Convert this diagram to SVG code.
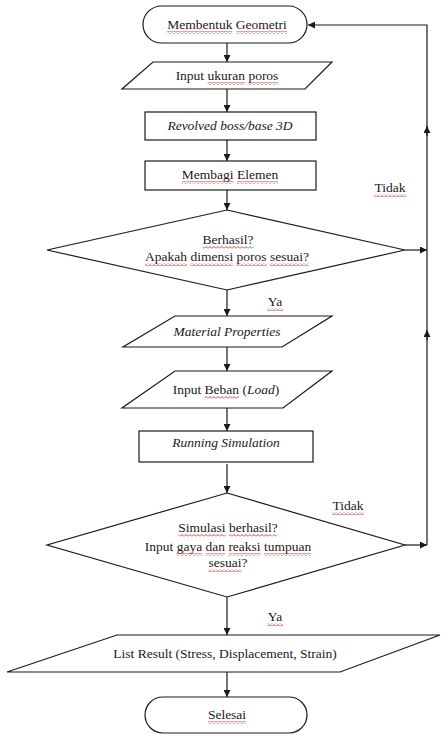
<svg xmlns="http://www.w3.org/2000/svg" width="441" height="734" viewBox="0 0 441 734">
<style>
.s{fill:#fff;stroke:#1a1a1a;stroke-width:1.2}
.c{fill:none;stroke:#1a1a1a;stroke-width:1.2}
text{font-family:"Liberation Serif","Times New Roman",serif;font-size:13.5px;fill:#1a1a1a;text-anchor:middle}
.i{font-style:italic}
.r{fill:url(#wr)}
.g{fill:url(#wg)}
</style>
<defs>
<marker id="a" viewBox="0 0 10 10" refX="10" refY="5" markerWidth="7" markerHeight="7" markerUnits="userSpaceOnUse" orient="auto">
<path d="M0,0 L10,5 L0,10 z" fill="#1a1a1a"/>
</marker>
<pattern id="wr" width="4" height="3" patternUnits="userSpaceOnUse">
<path d="M0,2.5 L2,0.5 L4,2.5" fill="none" stroke="#d42a2a" stroke-width="0.9"/>
</pattern>
<pattern id="wg" width="4" height="3" patternUnits="userSpaceOnUse">
<path d="M0,2.5 L2,0.5 L4,2.5" fill="none" stroke="#3a9a3a" stroke-width="0.9"/>
</pattern>
</defs>
<g id="connectors">
<path class="c" d="M227,43 V62" marker-end="url(#a)"/>
<path class="c" d="M227,89 V112" marker-end="url(#a)"/>
<path class="c" d="M227,140 V161" marker-end="url(#a)"/>
<path class="c" d="M227,190 V210" marker-end="url(#a)"/>
<path class="c" d="M227,290 V316" marker-end="url(#a)"/>
<path class="c" d="M227,347 V371" marker-end="url(#a)"/>
<path class="c" d="M227,408 V431" marker-end="url(#a)"/>
<path class="c" d="M227,464 V493" marker-end="url(#a)"/>
<path class="c" d="M227,597 V635" marker-end="url(#a)"/>
<path class="c" d="M227,672 V697" marker-end="url(#a)"/>
<path class="c" d="M405,250 H427" marker-end="url(#a)"/>
<path class="c" d="M405,545 H427" marker-end="url(#a)"/>
<path class="c" d="M427,545 V25 H308" marker-end="url(#a)"/>
<path class="c" d="M427,340 V330" marker-end="url(#a)"/>
<path class="c" d="M427,136 V126" marker-end="url(#a)"/>
<text x="390" y="192"><tspan>Tidak</tspan></text>
<rect class="r" x="374" y="194" width="32" height="3"/>
<text x="275" y="306"><tspan>Ya</tspan></text>
<rect class="r" x="267" y="308" width="16" height="3"/>
<text x="348" y="510"><tspan>Tidak</tspan></text>
<rect class="r" x="332" y="512" width="32" height="3"/>
<text x="275" y="621"><tspan>Ya</tspan></text>
<rect class="r" x="267" y="623" width="16" height="3"/>
</g>
<g id="n1">
<rect class="s" x="143" y="6" width="164" height="37" rx="18.5"/>
<text x="227" y="29"><tspan>Membentuk</tspan> <tspan>Geometri</tspan></text>
<rect class="r" x="167" y="31" width="65" height="3"/>
<rect class="r" x="236" y="31" width="51" height="3"/>
</g>
<g id="n2">
<polygon class="s" points="153,62 332,62 305,89 122,89"/>
<text x="227" y="80">Input <tspan>ukuran</tspan> <tspan>poros</tspan></text>
<rect class="r" x="207.5" y="82" width="37.5" height="3"/>
<rect class="r" x="248.5" y="82" width="30" height="3"/>
</g>
<g id="n3">
<rect class="s" x="145" y="112" width="171" height="28"/>
<text class="i" x="230" y="130">Revolved boss/base 3D</text>
</g>
<g id="n4">
<rect class="s" x="145" y="161" width="171" height="29"/>
<text x="230" y="179"><tspan>Membagi</tspan> <tspan>Elemen</tspan></text>
<rect class="r" x="182" y="181" width="51.5" height="3"/>
<rect class="r" x="237" y="181" width="41" height="3"/>
</g>
<g id="n5">
<polygon class="s" points="227,210 405,250 227,290 47,250"/>
<text x="228" y="244"><tspan>Berhasil</tspan><tspan>?</tspan></text>
<rect class="r" x="202.5" y="246" width="45" height="3"/>
<rect class="g" x="247.5" y="246" width="6" height="3"/>
<text x="227" y="261"><tspan>Apakah</tspan> <tspan>dimensi</tspan> <tspan>poros</tspan> <tspan>sesuai</tspan><tspan>?</tspan></text>
<rect class="r" x="145" y="263" width="42" height="3"/>
<rect class="r" x="190.5" y="263" width="42.5" height="3"/>
<rect class="r" x="236.5" y="263" width="30" height="3"/>
<rect class="r" x="270" y="263" width="33" height="3"/>
<rect class="g" x="303" y="263" width="6" height="3"/>
</g>
<g id="n6">
<polygon class="s" points="175,316 332,316 282,347 123,347"/>
<text class="i" x="227" y="336">Material Properties</text>
</g>
<g id="n7">
<polygon class="s" points="175,371 332,371 283,408 122,408"/>
<text x="226" y="394">Input <tspan>Beban</tspan> (<tspan class="i">Load</tspan>)</text>
<rect class="r" x="204.5" y="396" width="34.5" height="3"/>
</g>
<g id="n8">
<rect class="s" x="139" y="431" width="174" height="31"/>
<text class="i" x="226" y="447">Running Simulation</text>
</g>
<g id="n9">
<polygon class="s" points="227,493 405,545 227,597 47,545"/>
<text x="228" y="532"><tspan>Simulasi</tspan> <tspan>berhasil</tspan><tspan>?</tspan></text>
<rect class="r" x="178.5" y="534" width="47" height="3"/>
<rect class="r" x="229" y="534" width="42.5" height="3"/>
<rect class="g" x="271.5" y="534" width="6" height="3"/>
<text x="228" y="551">Input <tspan>gaya</tspan> <tspan>dan</tspan> <tspan>reaksi</tspan> <tspan>tumpuan</tspan></text>
<rect class="r" x="176.5" y="553" width="25.5" height="3"/>
<rect class="r" x="205.5" y="553" width="19.5" height="3"/>
<rect class="r" x="228.5" y="553" width="32" height="3"/>
<rect class="r" x="264" y="553" width="47" height="3"/>
<text x="228" y="567"><tspan>sesuai</tspan>?</text>
<rect class="r" x="208.5" y="569" width="33" height="3"/>
</g>
<g id="n10">
<polygon class="s" points="117,635 440,635 340,672 7,672"/>
<text x="225" y="658">List Result (Stress, Displacement, Strain)</text>
</g>
<g id="n11">
<rect class="s" x="145" y="697" width="162" height="36" rx="18"/>
<text x="227" y="719"><tspan>Selesai</tspan></text>
<rect class="r" x="208" y="721" width="38" height="3"/>
</g>
</svg>
